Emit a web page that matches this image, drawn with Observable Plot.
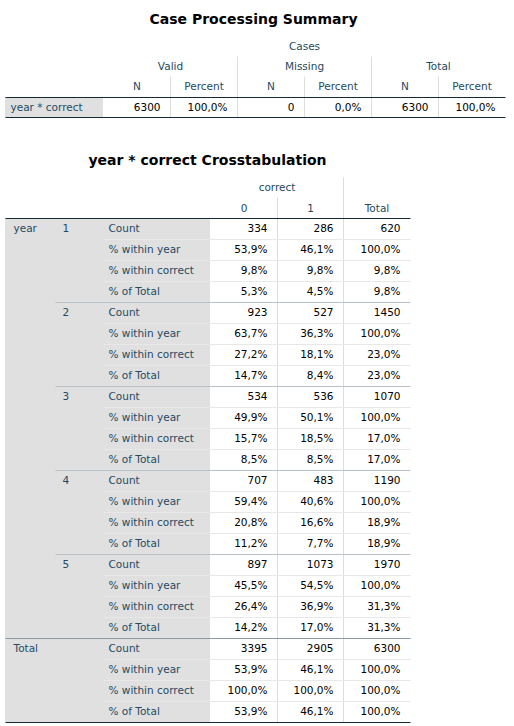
<!DOCTYPE html>
<html>
<head>
<meta charset="utf-8">
<script src="https://cdn.jsdelivr.net/npm/d3@7"></script>
<script src="https://cdn.jsdelivr.net/npm/@observablehq/plot@0.6"></script>
<style>body{margin:0;background:#fff}</style>
</head>
<body>
<div id="chart"></div>
<script>
// Case Processing Summary
const cpsGroups = ["Valid", "Missing", "Total"];
const cpsSub = ["N", "Percent"];
const cpsValues = ["6300", "100,0%", "0", "0,0%", "6300", "100,0%"];

// Crosstabulation
const years = ["1", "2", "3", "4", "5", "Total"];
const stats = ["Count", "% within year", "% within correct", "% of Total"];
const colLabels = ["0", "1", "Total"];
const counts = [[334, 286, 620], [923, 527, 1450], [534, 536, 1070], [707, 483, 1190], [897, 1073, 1970], [3395, 2905, 6300]];
const pctYear = [["53,9%", "46,1%", "100,0%"], ["63,7%", "36,3%", "100,0%"], ["49,9%", "50,1%", "100,0%"], ["59,4%", "40,6%", "100,0%"], ["45,5%", "54,5%", "100,0%"], ["53,9%", "46,1%", "100,0%"]];
const pctCorrect = [["9,8%", "9,8%", "9,8%"], ["27,2%", "18,1%", "23,0%"], ["15,7%", "18,5%", "17,0%"], ["20,8%", "16,6%", "18,9%"], ["26,4%", "36,9%", "31,3%"], ["100,0%", "100,0%", "100,0%"]];
const pctTotal = [["5,3%", "4,5%", "9,8%"], ["14,7%", "8,4%", "23,0%"], ["8,5%", "8,5%", "17,0%"], ["11,2%", "7,7%", "18,9%"], ["14,2%", "17,0%", "31,3%"], ["53,9%", "46,1%", "100,0%"]];

const head = "#264a60", grey = "#e0e0e0";
const texts = [], rects = [], lines = [];

// table 1 layout
const c1 = [5, 103, 170, 237, 304, 371, 438, 505];
texts.push({x: 253, y: 19, t: "Case Processing Summary", a: "middle", c: "#000", b: true});
texts.push({x: (c1[1] + c1[7]) / 2, y: 46, t: "Cases", a: "middle", c: head});
cpsGroups.forEach((g, i) => {
  texts.push({x: (c1[1 + 2 * i] + c1[3 + 2 * i]) / 2, y: 66, t: g, a: "middle", c: head});
  if (i > 0) lines.push({x1: c1[1 + 2 * i], x2: c1[1 + 2 * i], y1: 56, y2: 117, c: "#dddddd"});
  cpsSub.forEach((s, j) => {
    const k = 1 + 2 * i + j;
    texts.push({x: (c1[k] + c1[k + 1]) / 2, y: 86, t: s, a: "middle", c: head});
    if (j == 1) lines.push({x1: c1[k], x2: c1[k], y1: 76, y2: 117, c: "#dddddd"});
  });
});
rects.push({x1: c1[0], x2: c1[1], y1: 97, y2: 117});
texts.push({x: c1[0] + 5, y: 107, t: "year * correct", a: "start", c: head});
cpsValues.forEach((v, k) => texts.push({x: c1[k + 2] - 10, y: 107, t: v, a: "end", c: "#000"}));
lines.push({x1: 5, x2: 505, y1: 97, y2: 97, c: "#152935"});
lines.push({x1: 5, x2: 505, y1: 117, y2: 117, c: "#152935"});

// table 2 layout
const c2 = [5, 55, 103, 210, 277, 343, 410];
const t0 = 218, rh = 21;
texts.push({x: 207, y: 160, t: "year * correct Crosstabulation", a: "middle", c: "#000", b: true});
texts.push({x: (c2[3] + c2[5]) / 2, y: 187, t: "correct", a: "middle", c: head});
lines.push({x1: c2[5], x2: c2[5], y1: 177, y2: t0, c: "#dddddd"});
lines.push({x1: c2[4], x2: c2[4], y1: 197, y2: t0 + 24 * rh, c: "#dddddd"});
lines.push({x1: c2[5], x2: c2[5], y1: t0, y2: t0 + 24 * rh, c: "#dddddd"});
colLabels.forEach((l, j) => texts.push({x: (c2[3 + j] + c2[4 + j]) / 2, y: 208, t: l, a: "middle", c: head}));
rects.push({x1: c2[0], x2: c2[3], y1: t0, y2: t0 + 24 * rh});
texts.push({x: c2[0] + 8, y: t0 + rh / 2, t: "year", a: "start", c: head});
years.forEach((yr, g) => {
  const gy = t0 + g * 4 * rh;
  if (yr == "Total") texts.push({x: c2[0] + 8, y: gy + rh / 2, t: "Total", a: "start", c: head});
  else texts.push({x: c2[1] + 7, y: gy + rh / 2, t: yr, a: "start", c: head});
  if (g > 0) lines.push({x1: yr == "Total" ? c2[0] : c2[1], x2: c2[6], y1: gy, y2: gy, c: yr == "Total" ? "#8a9aa5" : "#b9c2c8"});
  const rows = [counts[g].map(String), pctYear[g], pctCorrect[g], pctTotal[g]];
  stats.forEach((s, r) => {
    const ry = gy + r * rh;
    texts.push({x: c2[2] + 5, y: ry + rh / 2, t: s, a: "start", c: head});
    if (r > 0) lines.push({x1: c2[2], x2: c2[6], y1: ry, y2: ry, c: "#e8e8e8"});
    rows[r].forEach((v, j) => texts.push({x: c2[4 + j] - 10, y: ry + rh / 2, t: v, a: "end", c: "#000"}));
  });
});
lines.push({x1: c2[0], x2: c2[6], y1: t0, y2: t0, c: "#152935"});
lines.push({x1: c2[0], x2: c2[6], y1: t0 + 24 * rh, y2: t0 + 24 * rh, c: "#152935"});

const chart = Plot.plot({
  width: 514, height: 726,
  margin: 0,
  x: {domain: [0, 514], range: [0, 514], axis: null},
  y: {domain: [0, 726], range: [0, 726], axis: null},
  style: {fontFamily: "DejaVu Sans", fontSize: "10.5px", background: "#fff"},
  marks: [
    Plot.rect(rects, {x1: "x1", x2: "x2", y1: "y1", y2: "y2", fill: grey}),
    Plot.link(lines, {x1: "x1", x2: "x2", y1: "y1", y2: "y2", stroke: (d) => d.c, strokeWidth: 1}),
    Plot.text(texts.filter((d) => d.a == "start"), {x: "x", y: "y", text: "t", textAnchor: "start", fill: (d) => d.c}),
    Plot.text(texts.filter((d) => d.a == "end"), {x: "x", y: "y", text: "t", textAnchor: "end", fill: (d) => d.c}),
    Plot.text(texts.filter((d) => d.a == "middle" && !d.b), {x: "x", y: "y", text: "t", textAnchor: "middle", fill: (d) => d.c}),
    Plot.text(texts.filter((d) => d.b), {x: "x", y: "y", text: "t", textAnchor: "middle", fill: "#000", fontWeight: "bold", fontSize: 14})
  ]
});
document.getElementById("chart").append(chart);
</script>
</body>
</html>
